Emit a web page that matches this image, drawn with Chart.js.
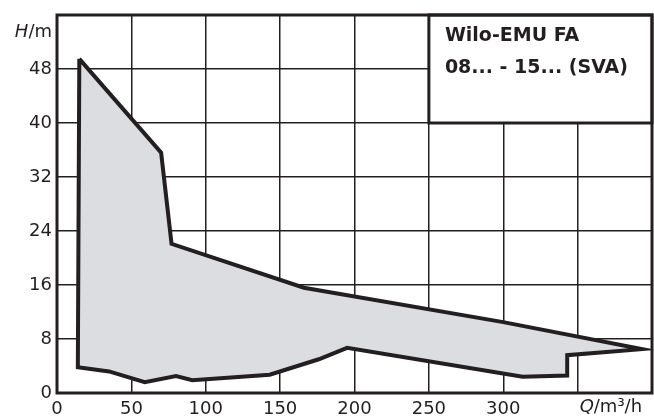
<!DOCTYPE html>
<html>
<head>
<meta charset="utf-8">
<script src="https://cdn.jsdelivr.net/npm/chart.js@4"></script>
<style>
  html, body { margin: 0; padding: 0; background: #fff; }
</style>
</head>
<body>
<canvas id="pumpChart" width="654" height="416"></canvas>
<script>
// Einsatzbereich Wilo-EMU FA 08... - 15... (SVA), Umriss als geschlossener Polygonzug
const flowQ = [15, 70, 77, 166, 300, 393, 343, 343, 313, 195, 176, 143, 91, 80, 59, 35, 14, 15];
const headH = [49.5, 35.6, 22.1, 15.6, 10.5, 6.5, 5.6, 2.6, 2.4, 6.7, 5.0, 2.7, 1.9, 2.5, 1.6, 3.2, 3.8, 49.5];

// Achsen
const xTicks = [0, 50, 100, 150, 200, 250, 300];
const yTicks = [0, 8, 16, 24, 32, 40, 48];
const titleLines = ['Wilo-EMU FA', '08... - 15... (SVA)'];

const ink = '#231f20';
const font = 'DejaVu Sans';

// Rahmen, Typenfeld und Achsenbeschriftungen
const framePlugin = {
  id: 'frame',
  afterDraw(chart) {
    const { ctx, chartArea: a, scales: { x, y } } = chart;
    ctx.save();

    // Typenfeld oben rechts
    const bx = x.getPixelForValue(250), by = y.getPixelForValue(40);
    ctx.fillStyle = '#fff';
    ctx.fillRect(bx, a.top, a.right - bx, by - a.top);
    ctx.strokeStyle = ink;
    ctx.lineWidth = 3;
    ctx.strokeRect(bx, a.top, a.right - bx, by - a.top);

    ctx.fillStyle = ink;
    ctx.font = 'bold 19px "' + font + '"';
    ctx.textAlign = 'left';
    ctx.textBaseline = 'alphabetic';
    ctx.fillText(titleLines[0], bx + 16, 41);
    ctx.fillText(titleLines[1], bx + 16, 73);

    // Aussenrahmen
    ctx.strokeRect(a.left, a.top, a.right - a.left, a.bottom - a.top);

    // H/m oben links
    ctx.font = '18px "' + font + '"';
    const mW = ctx.measureText('/m').width;
    ctx.textAlign = 'right';
    ctx.fillText('/m', 52, 37);
    ctx.font = 'italic 18px "' + font + '"';
    ctx.fillText('H', 52 - mW, 37);

    // Q/m³/h unten rechts
    const qx = x.getPixelForValue(350) + 2;
    ctx.textAlign = 'left';
    ctx.font = 'italic 18px "' + font + '"';
    ctx.fillText('Q', qx, 412);
    const qW = ctx.measureText('Q').width;
    ctx.font = '18px "' + font + '"';
    ctx.fillText('/m³/h', qx + qW, 412);

    ctx.restore();
  }
};

const ctx = document.getElementById('pumpChart').getContext('2d');
new Chart(ctx, {
  type: 'line',
  data: {
    datasets: [{
      data: flowQ.map((q, i) => ({ x: q, y: headH[i] })),
      borderColor: ink,
      borderWidth: 4,
      backgroundColor: '#dcdde0',
      fill: 'shape',
      pointRadius: 0,
      tension: 0,
      borderJoinStyle: 'miter'
    }]
  },
  options: {
    responsive: false,
    animation: false,
    devicePixelRatio: 1,
    layout: { padding: { top: 15, right: 2, left: 0, bottom: 0 } },
    plugins: { legend: { display: false }, tooltip: { enabled: false } },
    scales: {
      x: {
        type: 'linear',
        min: 0,
        max: 400,
        afterFit: s => { s.height = 23; s.paddingLeft = 0; s.paddingRight = 0; },
        afterBuildTicks: s => { s.ticks = [0, 50, 100, 150, 200, 250, 300, 350, 400].map(v => ({ value: v })); },
        grid: { color: ink, lineWidth: 1.5, drawTicks: false },
        border: { display: false },
        ticks: {
          padding: 6,
          color: ink,
          autoSkip: false,
          font: { family: font, size: 18 },
          maxRotation: 0,
          callback: v => xTicks.includes(v) ? String(v) : ''
        }
      },
      y: {
        min: 0,
        max: 56,
        afterFit: s => { s.width = 57; s.paddingTop = 0; s.paddingBottom = 0; },
        afterBuildTicks: s => { s.ticks = [0, 8, 16, 24, 32, 40, 48, 56].map(v => ({ value: v })); },
        grid: { color: ink, lineWidth: 1.5, drawTicks: false },
        border: { display: false },
        ticks: {
          padding: 5,
          color: ink,
          autoSkip: false,
          font: { family: font, size: 18 },
          callback: v => yTicks.includes(v) ? String(v) : ''
        }
      }
    }
  },
  plugins: [framePlugin]
});
</script>
</body>
</html>
